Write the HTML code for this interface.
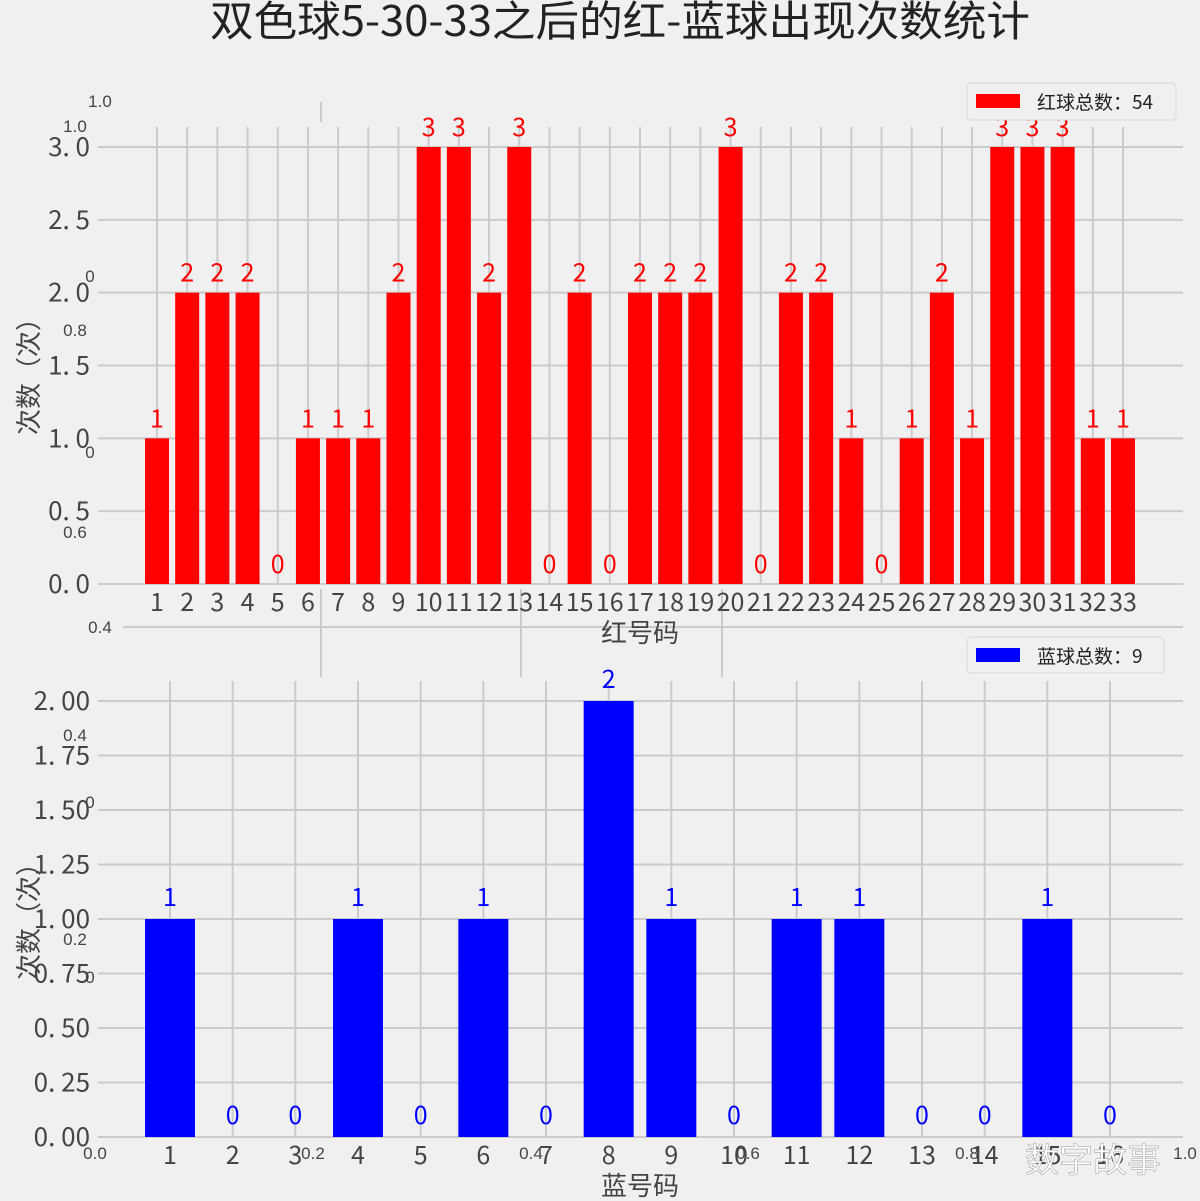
<!DOCTYPE html>
<html><head><meta charset="utf-8"><style>
body{margin:0;background:#f0f0f0}
svg{display:block}
text{font-family:"Liberation Sans","WenQuanYi Zen Hei",sans-serif}
.t{font-family:"WenQuanYi Zen Hei","Noto Sans CJK SC",sans-serif}
</style></head><body>
<svg id="c" width="1200" height="1201" viewBox="0 0 1200 1201" xmlns="http://www.w3.org/2000/svg">
<rect width="1200" height="1201" fill="#f0f0f0"/>
<text class="t" x="620" y="36" font-size="42" text-anchor="middle" textLength="820" lengthAdjust="spacingAndGlyphs" fill="#222">双色球5-30-33之后的红-蓝球出现次数统计</text>
<g id="bg" stroke="#cbcbcb" stroke-width="2">
<line x1="123" y1="627" x2="1183" y2="627"/>
<line x1="321" y1="589" x2="321" y2="677"/><line x1="521" y1="589" x2="521" y2="677"/><line x1="722" y1="589" x2="722" y2="677"/>
<line x1="321" y1="102" x2="321" y2="122"/>
</g>
<g class="t" font-size="17" fill="#444">
<text x="100" y="107" text-anchor="middle">1.0</text>
<text x="75" y="132" text-anchor="middle">1.0</text>
<text x="100" y="633" text-anchor="middle">0.4</text>
<text x="75" y="741" text-anchor="middle">0.4</text>
<text x="75" y="336" text-anchor="middle">0.8</text>
<text x="75" y="538" text-anchor="middle">0.6</text>
<text x="75" y="945" text-anchor="middle">0.2</text>
<text x="90" y="282" text-anchor="middle">0</text>
<text x="90" y="458" text-anchor="middle">0</text>
<text x="90" y="808" text-anchor="middle">0</text>
<text x="90" y="983" text-anchor="middle">0</text>
<text x="95" y="1159" text-anchor="middle">0.0</text>
<text x="313" y="1159" text-anchor="middle">0.2</text>
<text x="531" y="1159" text-anchor="middle">0.4</text>
<text x="748" y="1159" text-anchor="middle">0.6</text>
<text x="967" y="1159" text-anchor="middle">0.8</text>
<text x="1185" y="1159" text-anchor="middle">1.0</text>
</g>
<g id="top"></g>
<g id="bot"></g>
<g>
<rect x="967" y="83" width="209" height="37" rx="4" fill="#f0f0f0" stroke="#d8d8d8"/>
<rect x="976" y="94" width="44" height="14" fill="#ff0000"/>
<text class="t" x="1037" y="109" font-size="19" fill="#222">红球总数：54</text>
</g>
<g>
<rect x="967" y="637" width="197" height="36" rx="4" fill="#f0f0f0" stroke="#d8d8d8"/>
<rect x="976" y="648" width="44" height="14" fill="#0000ff"/>
<text class="t" x="1037" y="663" font-size="19" fill="#222">蓝球总数：9</text>
</g>
<text class="t" x="1025" y="1172" font-size="34" fill="#fff" stroke="#999" stroke-width="0.5">数字故事</text>
</svg>
<script>
const redCats=[1,2,3,4,5,6,7,8,9,10,11,12,13,14,15,16,17,18,19,20,21,22,23,24,25,26,27,28,29,30,31,32,33];
const redVals=[1,2,2,2,0,1,1,1,2,3,3,2,3,0,2,0,2,2,2,3,0,2,2,1,0,1,2,1,3,3,3,1,1];
const redTicks=["0.0","0.5","1.0","1.5","2.0","2.5","3.0"];
const blueCats=[1,2,3,4,5,6,7,8,9,10,11,12,13,14,15,16];
const blueVals=[1,0,0,1,0,1,0,2,1,0,1,1,0,0,1,0];
const blueTicks=["0.00","0.25","0.50","0.75","1.00","1.25","1.50","1.75","2.00"];
const NS="http://www.w3.org/2000/svg";
function mk(p,t,a){const e=document.createElementNS(NS,t);for(const k in a)e.setAttribute(k,a[k]);p.appendChild(e);return e;}
function draw(g,cats,vals,ticks,o){
  const xs=i=>o.x0+(i)*(o.x1-o.x0)/(cats.length-1);
  const ys=v=>o.y0-v*o.k;
  ticks.forEach(t=>{const y=ys(parseFloat(t));
    const l=mk(g,'line',{x1:98,x2:1183,y1:y,y2:y,stroke:'#cbcbcb','stroke-width':2});
    
    
    const tx=mk(g,'text',{x:90,y:y+9,'font-size':26,'text-anchor':'end',fill:'#444',class:'t'});
    tx.textContent=t.replace('.','. ');
    
    
  });
  cats.forEach((c,i)=>{const x=xs(i);
    const l=mk(g,'line',{x1:x,x2:x,y1:o.gtop,y2:o.y0,stroke:'#cbcbcb','stroke-width':2});
    
    
  });
  cats.forEach((c,i)=>{const x=xs(i),v=vals[i];
    const r=mk(g,'rect',{x:x-o.bw/2,y:ys(v),width:o.bw,height:o.y0-ys(v),fill:o.col});
    
    
    const vt=mk(g,'text',{x:x,y:ys(v)-o.lo,'font-size':25,'text-anchor':'middle',fill:o.col,class:'t'});
    vt.textContent=v;
    
    
    const xt=mk(g,'text',{x:x,y:o.y0+27,'font-size':25,'text-anchor':'middle',fill:'#444',class:'t'});
    xt.textContent=c;
    
    
  });
  const xl=mk(g,'text',{x:640,y:o.y0+58,'font-size':26,'text-anchor':'middle',fill:'#444',class:'t'});
  xl.textContent=o.xlab;
  
  
  const yl=mk(g,'text',{x:0,y:0,'font-size':26,'text-anchor':'middle',fill:'#444',class:'t',transform:`translate(38,${o.ymid}) rotate(-90)`});
  yl.textContent='次数（次）';
  
  
}
draw(document.getElementById('top'),redCats,redVals,redTicks,{x0:157,x1:1123,y0:584,k:145.67,gtop:127,bw:24,col:'#ff0000',lo:11,xlab:'红号码',ymid:370});
draw(document.getElementById('bot'),blueCats,blueVals,blueTicks,{x0:170,x1:1110,y0:1137,k:218,gtop:681,bw:50,col:'#0000ff',lo:13,xlab:'蓝号码',ymid:915});
</script>
</body></html>
